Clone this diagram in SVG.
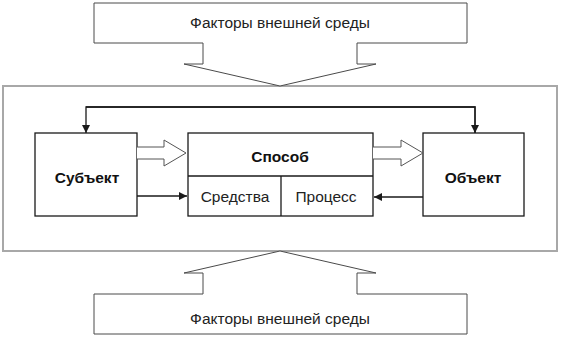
<svg xmlns="http://www.w3.org/2000/svg" width="561" height="337" viewBox="0 0 561 337">
<style>
.bg{fill:#ffffff}
.frame{fill:none;stroke:#a8a8a8;stroke-width:2}
.env{fill:#ffffff;stroke:#4a4a4a;stroke-width:1}
.box{fill:#ffffff;stroke:#1a1a1a;stroke-width:1.3}
.line{fill:none;stroke:#1a1a1a;stroke-width:1.3}
.hollow{fill:#ffffff;stroke:#555555;stroke-width:1}
.t{font-family:"Liberation Sans",Arial,sans-serif;font-size:15.5px;fill:#222222;text-anchor:middle}
.b{font-weight:bold;fill:#111111}
</style>
<defs>
<marker id="ah" viewBox="0 0 10 10" refX="10" refY="5" markerWidth="13" markerHeight="8" markerUnits="userSpaceOnUse" orient="auto">
<path d="M0,0 L10,5 L0,10 Z" fill="#1a1a1a"/>
</marker>
</defs>
<rect class="bg" x="0" y="0" width="561" height="337"/>
<g id="environment-frame">
<rect class="frame" x="3" y="86" width="554" height="165"/>
</g>
<g id="env-top">
<path class="env" d="M94,3 H467 V43 H357 V64 H376 L280,86 L184,64 H203 V43 H94 Z"/>
<text class="t" x="280" y="28">Факторы внешней среды</text>
</g>
<g id="env-bottom">
<path class="env" d="M94,334 H467 V294 H357 V273 H376 L280,251 L184,273 H203 V294 H94 Z"/>
<text class="t" x="280" y="324">Факторы внешней среды</text>
</g>
<g id="subject">
<rect class="box" x="35" y="133" width="102" height="83"/>
<text class="t b" x="87" y="183">Субъект</text>
</g>
<g id="method">
<rect class="box" x="188" y="133" width="185" height="83"/>
<line class="line" x1="188" y1="176" x2="373" y2="176"/>
<text class="t b" x="280" y="162">Способ</text>
</g>
<g id="means">
<line class="line" x1="281" y1="176" x2="281" y2="216"/>
<text class="t" x="235" y="202">Средства</text>
</g>
<g id="process">
<text class="t" x="326" y="202">Процесс</text>
</g>
<g id="object">
<rect class="box" x="423" y="133" width="101" height="83"/>
<text class="t b" x="473" y="183">Объект</text>
</g>
<g id="connectors">
<path class="line" d="M475,133 V107 H86 V133" marker-end="url(#ah)"/>
<path class="line" d="M86,107 H475 V133" marker-end="url(#ah)"/>
<path class="hollow" d="M137,147 H164 V140 L186,153 L164,166 V159 H137"/>
<path class="hollow" d="M373,147 H401 V140 L423,153 L401,166 V159 H373"/>
<line class="line" x1="137" y1="196" x2="187" y2="196" marker-end="url(#ah)"/>
<line class="line" x1="423" y1="197" x2="374" y2="197" marker-end="url(#ah)"/>
</g>
</svg>
